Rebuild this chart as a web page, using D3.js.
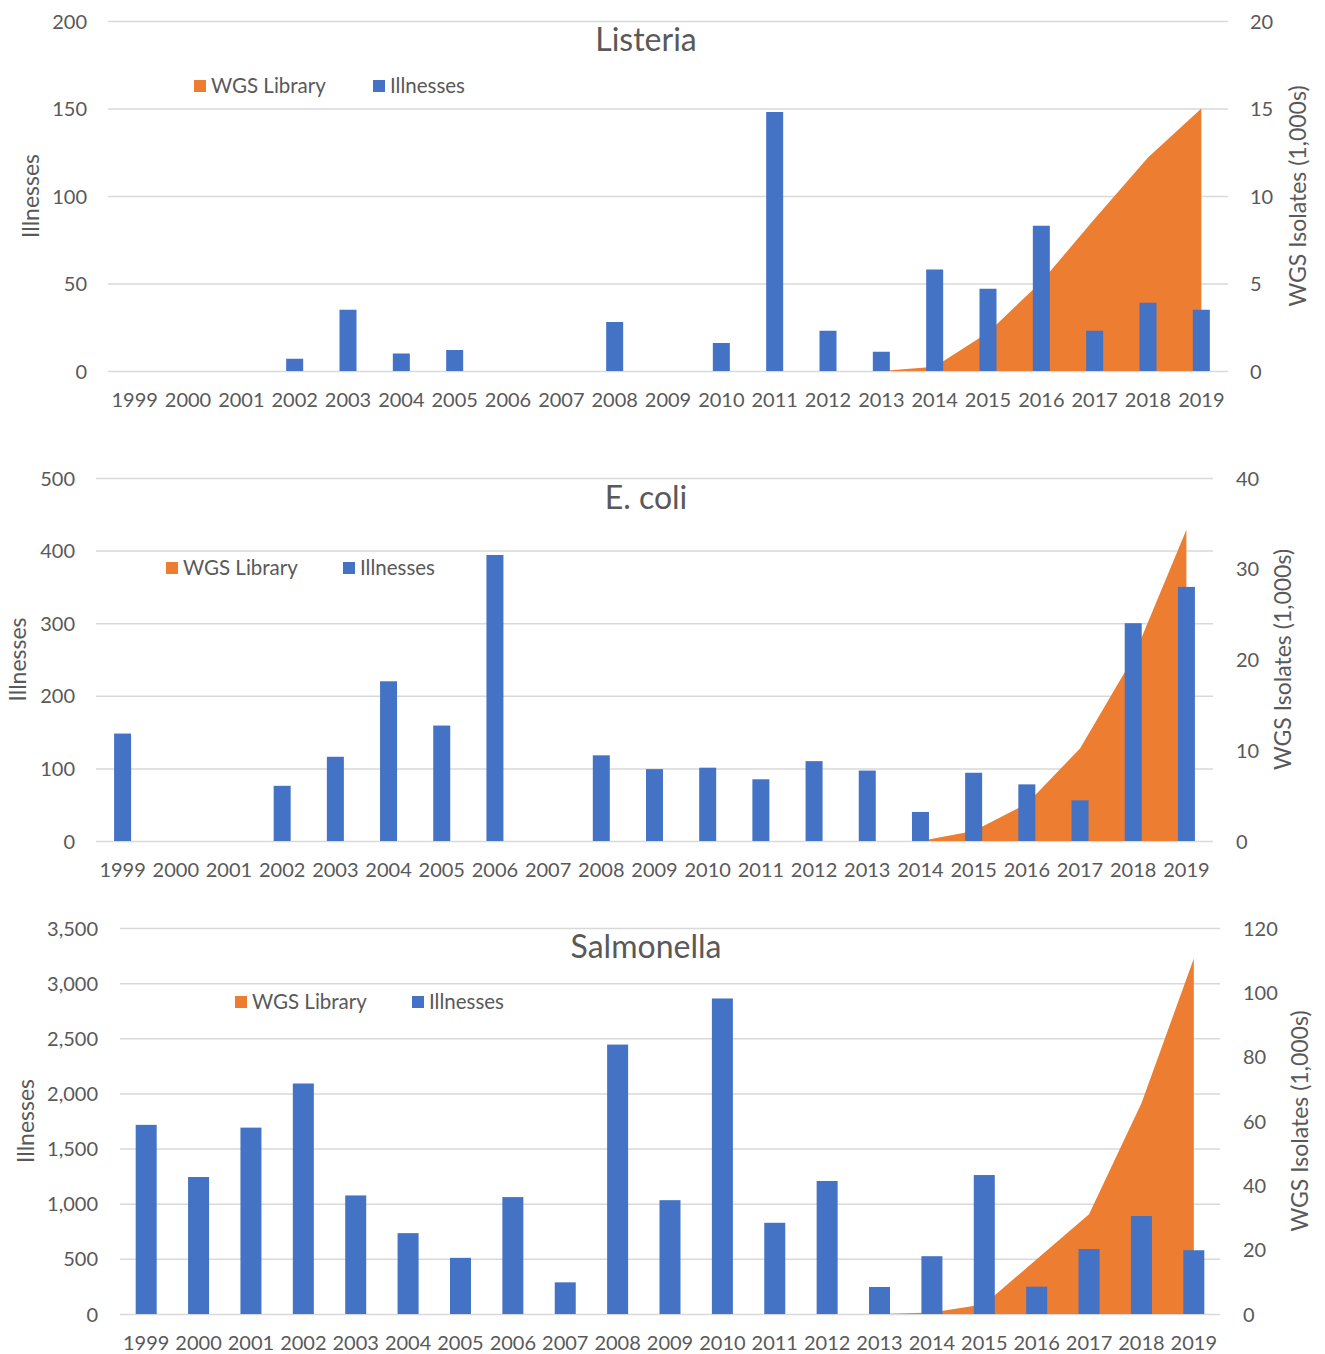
<!DOCTYPE html>
<html>
<head>
<meta charset="utf-8">
<script src="https://cdn.jsdelivr.net/npm/d3@7/dist/d3.min.js"></script>
<style>
  html, body { margin: 0; padding: 0; background: #fff; }
  svg text { font-family: Lato, "Open Sans", sans-serif; fill: #595959; }
</style>
</head>
<body>
<svg id="chart" width="1325" height="1354"></svg>
<script>
// ---------- DATA ----------
const years = ["1999","2000","2001","2002","2003","2004","2005","2006","2007","2008","2009",
               "2010","2011","2012","2013","2014","2015","2016","2017","2018","2019"];

const listeriaIllnesses = [null,null,null,7,35,10,12,null,null,28,null,16,148,23,11,58,47,83,23,39,35];
const listeriaWGS       = [0,0,0,0,0,0,0,0,0,0,0,0,0,0,0,0.25,2.2,5.1,8.7,12.2,15.0];

const ecoliIllnesses = [148,null,null,76,116,220,159,394,null,118,99,101,85,110,97,40,94,78,56,300,350];
const ecoliWGS       = [0,0,0,0,0,0,0,0,0,0,0,0,0,0,0,0,1.1,4.1,10.2,20.2,34.3];

const salmonellaIllnesses = [1715,1242,1690,2090,1075,733,509,1060,287,2443,1032,2861,827,1206,245,524,1260,248,589,888,578];
const salmonellaWGS       = [0,0,0,0,0,0,0,0,0,0,0,0,0,0,0,0.5,3,17,31,65.5,110.5];

const listeriaLeftTicks = [0,50,100,150,200];
const listeriaRightTicks = [0,5,10,15,20];
const ecoliLeftTicks = [0,100,200,300,400,500];
const ecoliRightTicks = [0,10,20,30,40];
const salmonellaLeftTicks = [0,500,1000,1500,2000,2500,3000,3500];
const salmonellaRightTicks = [0,20,40,60,80,100,120];

const titles = ["Listeria","E. coli","Salmonella"];
const legendLabels = ["WGS Library","Illnesses"];
const leftTitle = "Illnesses";
const rightTitle = "WGS Isolates (1,000s)";

const ORANGE = "#ED7D31", BLUE = "#4472C4", GRID = "#D9D9D9";

// ---------- LAYOUT ----------
const panels = [
  { title: titles[0], ill: listeriaIllnesses, wgs: listeriaWGS,
    lt: listeriaLeftTicks, rt: listeriaRightTicks, fmt: d3.format("d"),
    x0: 108, x1: 1228, yTop: 21, yBot: 371, barW: 17,
    titleY: 40, legY: 86, legO: 194, legB: 373,
    lLabX: 87, rLabX: 1250, lTitX: 31, rTitX: 1298, xLabY: 400 },
  { title: titles[1], ill: ecoliIllnesses, wgs: ecoliWGS,
    lt: ecoliLeftTicks, rt: ecoliRightTicks, fmt: d3.format("d"),
    x0: 96, x1: 1213, yTop: 478, yBot: 841, barW: 17,
    titleY: 498, legY: 568, legO: 166, legB: 343,
    lLabX: 75, rLabX: 1236, lTitX: 18, rTitX: 1283, xLabY: 870 },
  { title: titles[2], ill: salmonellaIllnesses, wgs: salmonellaWGS,
    lt: salmonellaLeftTicks, rt: salmonellaRightTicks, fmt: d3.format(","),
    x0: 120, x1: 1220, yTop: 928, yBot: 1314, barW: 21,
    titleY: 947, legY: 1002, legO: 235, legB: 412,
    lLabX: 98, rLabX: 1243, lTitX: 26, rTitX: 1300, xLabY: 1343 }
];

const svg = d3.select("#chart");

panels.forEach(p => {
  const g = svg.append("g");
  const x = d3.scaleBand().domain(years).range([p.x0, p.x1]).paddingInner(0).paddingOuter(0);
  const yL = d3.scaleLinear().domain([0, d3.max(p.lt)]).range([p.yBot, p.yTop]);
  const yR = d3.scaleLinear().domain([0, d3.max(p.rt)]).range([p.yBot, p.yTop]);
  const cx = d => x(d) + x.bandwidth() / 2;

  // gridlines via left axis
  const gridAxis = d3.axisLeft(yL).tickValues(p.lt).tickSize(-(p.x1 - p.x0)).tickFormat("");
  const grid = g.append("g").attr("transform", `translate(${p.x0},0)`).call(gridAxis);
  grid.select(".domain").remove();
  grid.selectAll("line").attr("stroke", GRID).attr("stroke-width", 1.5);

  // left axis labels
  const la = g.append("g").attr("transform", `translate(${p.lLabX},0)`)
    .call(d3.axisLeft(yL).tickValues(p.lt).tickSize(0).tickPadding(0).tickFormat(p.fmt));
  la.select(".domain").remove();
  la.selectAll("text").attr("font-size", 20).attr("dy", "0.35em").style("fill", "#595959");

  // right axis labels
  const ra = g.append("g").attr("transform", `translate(${p.rLabX},0)`)
    .call(d3.axisRight(yR).tickValues(p.rt).tickSize(0).tickPadding(0).tickFormat(d3.format("d")));
  ra.select(".domain").remove();
  ra.selectAll("text").attr("font-size", 20).attr("dy", "0.35em").style("fill", "#595959");

  // bottom axis labels
  const ba = g.append("g").attr("transform", `translate(0,${p.xLabY})`)
    .call(d3.axisBottom(x).tickSize(0).tickPadding(0));
  ba.select(".domain").remove();
  ba.selectAll("text").attr("font-size", 20).attr("dy", "0.35em").attr("y", 0).style("fill", "#595959");

  // area (WGS Library) on right axis
  const area = d3.area()
    .x((d, i) => cx(years[i]))
    .y0(p.yBot)
    .y1(d => yR(d));
  g.append("path").datum(p.wgs).attr("d", area).attr("fill", ORANGE);

  // bars (Illnesses) on left axis
  const barData = years.map((yr, i) => ({ yr, v: p.ill[i] })).filter(d => d.v != null);
  g.selectAll("rect.bar").data(barData).enter().append("rect")
    .attr("class", "bar")
    .attr("x", d => cx(d.yr) - p.barW / 2)
    .attr("width", p.barW)
    .attr("y", d => yL(d.v))
    .attr("height", d => p.yBot - yL(d.v))
    .attr("fill", BLUE);

  // title
  g.append("text").attr("x", 646)
    .attr("y", p.titleY).attr("dy", "0.35em").attr("text-anchor", "middle")
    .attr("font-size", 32).text(p.title);

  // legend
  const leg = [{ c: ORANGE, t: legendLabels[0], x: p.legO }, { c: BLUE, t: legendLabels[1], x: p.legB }];
  leg.forEach(l => {
    g.append("rect").attr("x", l.x).attr("y", p.legY - 6).attr("width", 12).attr("height", 12).attr("fill", l.c);
    g.append("text").attr("x", l.x + 17).attr("y", p.legY).attr("dy", "0.35em")
      .attr("font-size", 20.5).text(l.t);
  });

  // axis titles
  const my = (p.yTop + p.yBot) / 2;
  g.append("text").attr("transform", `translate(${p.lTitX},${my}) rotate(-90)`)
    .attr("text-anchor", "middle").attr("dy", "0.35em").attr("font-size", 23).text(leftTitle);
  g.append("text").attr("transform", `translate(${p.rTitX},${my}) rotate(-90)`)
    .attr("text-anchor", "middle").attr("dy", "0.35em").attr("font-size", 23).text(rightTitle);
});
</script>
</body>
</html>
